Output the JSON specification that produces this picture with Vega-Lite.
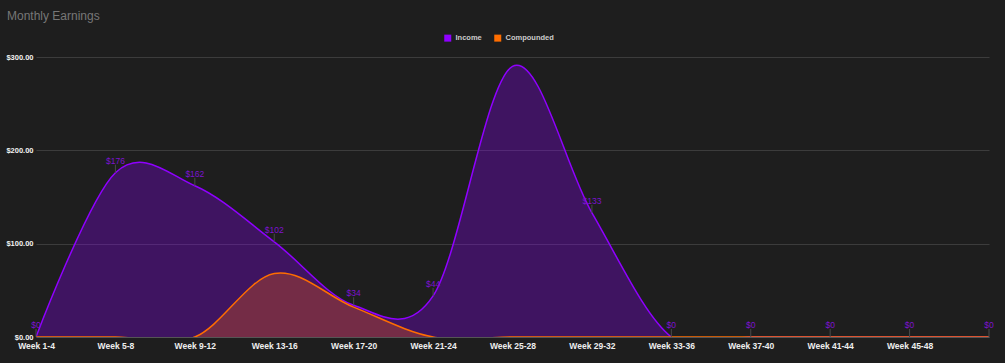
{
  "$schema": "https://vega.github.io/schema/vega-lite/v6.json",
  "autosize": {"type": "none"},
  "width": 953,
  "height": 280,
  "padding": {"left": 36, "top": 57, "right": 16, "bottom": 26},
  "background": "#1e1e1e",
  "title": {
    "text": "Monthly Earnings",
    "anchor": "start",
    "frame": "group",
    "orient": "top",
    "baseline": "alphabetic",
    "offset": 2,
    "dx": -29,
    "font": "Liberation Sans",
    "fontSize": 12,
    "fontWeight": "normal",
    "color": "#777777"
  },
  "config": {
    "view": {"stroke": null},
    "font": "Liberation Sans"
  },
  "data": {
    "values": [
      {"week": "Week 1-4", "Income": 0, "Compounded": 0},
      {"week": "Week 5-8", "Income": 176, "Compounded": 0},
      {"week": "Week 9-12", "Income": 162, "Compounded": 0},
      {"week": "Week 13-16", "Income": 102, "Compounded": 68},
      {"week": "Week 17-20", "Income": 34, "Compounded": 32},
      {"week": "Week 21-24", "Income": 44, "Compounded": 0},
      {"week": "Week 25-28", "Income": 290, "Compounded": 0},
      {"week": "Week 29-32", "Income": 133, "Compounded": 0},
      {"week": "Week 33-36", "Income": 0, "Compounded": 0},
      {"week": "Week 37-40", "Income": 0, "Compounded": 0},
      {"week": "Week 41-44", "Income": 0, "Compounded": 0},
      {"week": "Week 45-48", "Income": 0, "Compounded": 0},
      {"week": "Week 49-52", "Income": 0, "Compounded": 0}
    ]
  },
  "encoding": {
    "x": {
      "field": "week",
      "type": "ordinal",
      "sort": null,
      "scale": {"type": "point", "padding": 0},
      "axis": {
        "title": null,
        "labelAngle": 0,
        "ticks": false,
        "grid": false,
        "domainColor": "#555555",
        "labelColor": "#eeeeee",
        "labelFont": "Liberation Sans",
        "labelFontSize": 8.5,
        "labelFontWeight": "bold",
        "labelPadding": 4,
        "labelExpr": "datum.label == 'Week 49-52' ? '' : datum.label"
      }
    }
  },
  "layer": [
    {
      "mark": {"type": "area", "interpolate": "cardinal", "color": "#8f00ff", "opacity": 0.3, "clip": true},
      "encoding": {
        "y": {
          "field": "Income",
          "type": "quantitative",
          "scale": {"domain": [0, 300], "nice": false},
          "axis": {
            "title": null,
            "values": [0, 100, 200, 300],
            "format": "$,.2f",
            "ticks": false,
            "domain": false,
            "gridColor": "#3c3c3c",
            "labelColor": "#f2f2f2",
            "labelFont": "Liberation Sans",
            "labelFontSize": 7.5,
            "labelFontWeight": "bold",
            "labelPadding": 3
          }
        }
      }
    },
    {
      "mark": {"type": "area", "interpolate": "cardinal", "color": "#ff6d00", "opacity": 0.28, "clip": true},
      "encoding": {
        "y": {"field": "Compounded", "type": "quantitative"}
      }
    },
    {
      "transform": [{"fold": ["Income", "Compounded"], "as": ["series", "amount"]}],
      "mark": {"type": "line", "interpolate": "cardinal", "strokeWidth": 1.5, "clip": true},
      "encoding": {
        "y": {"field": "amount", "type": "quantitative"},
        "color": {
          "field": "series",
          "type": "nominal",
          "scale": {"domain": ["Income", "Compounded"], "range": ["#8f00ff", "#ff6d00"]},
          "legend": {
            "title": null,
            "orient": "none",
            "direction": "horizontal",
            "legendX": 408,
            "legendY": -23,
            "symbolType": "square",
            "symbolSize": 49,
            "symbolStrokeWidth": 0,
            "labelColor": "#cccccc",
            "labelFont": "Liberation Sans",
            "labelFontSize": 7.5,
            "labelFontWeight": "bold",
            "labelOffset": 4,
            "columnPadding": 12,
            "encode": {
              "symbols": {"update": {"fill": {"scale": "color", "field": "value"}, "fillOpacity": {"value": 1}}}
            }
          }
        }
      }
    },
    {
      "transform": [{"filter": "datum.week != 'Week 25-28'"}],
      "mark": {"type": "rule", "color": "#4a4a4a", "strokeWidth": 1, "y2Offset": -8},
      "encoding": {
        "y": {"field": "Income", "type": "quantitative"},
        "y2": {"field": "Income"}
      }
    },
    {
      "transform": [{"filter": "datum.week != 'Week 25-28'"}],
      "mark": {"type": "text", "baseline": "alphabetic", "dy": -9, "font": "Liberation Sans", "fontSize": 8.5, "color": "#7d12d0"},
      "encoding": {
        "y": {"field": "Income", "type": "quantitative"},
        "text": {"field": "Income", "type": "quantitative", "format": "$.0f"}
      }
    }
  ]
}
